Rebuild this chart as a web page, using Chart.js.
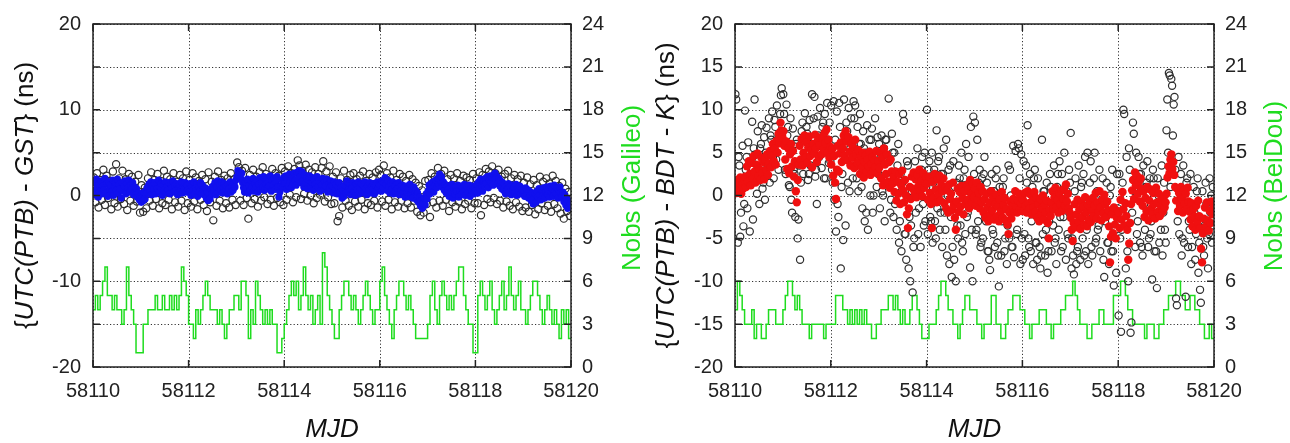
<!DOCTYPE html>
<html>
<head>
<meta charset="utf-8">
<script src="https://cdn.jsdelivr.net/npm/chart.js@4.4.1/dist/chart.umd.min.js"></script>
<style>
  html, body { margin: 0; padding: 0; background: #fff; }
  #wrap { position: relative; width: 1290px; height: 443px; }
  .panel { position: absolute; top: 0; width: 645px; height: 443px; }
</style>
</head>
<body>
<div id="wrap">
  <div class="panel" style="left:0"><canvas id="gal" width="645" height="443"></canvas></div>
  <div class="panel" style="left:645px"><canvas id="bds" width="645" height="443"></canvas></div>
</div>
<script>
// MJD range, samples are evenly spaced over it
const mjdStart = 58110;
const mjdEnd = 58120;
const mjdTicks = [58110, 58112, 58114, 58116, 58118, 58120];

// Galileo: raw single-satellite values (open circles), ns
const galRaw = [
  2.1,-0.8,2.6,-1.4,1.8,-0.5,3.0,-1.1,2.3,-0.3,1.7,-1.6,2.8,-0.9,3.65,-1.3,2.0,-0.4,2.9,-1.0,1.9,-1.7,2.5,-0.6,2.2,-1.2,1.6,-0.7,2.4,-2.0,
  1.2,-1.9,0.9,-1.5,2.0,-0.6,2.7,-1.2,1.8,-0.4,2.5,-1.5,1.7,-0.9,2.9,-1.1,2.2,-0.5,1.9,-1.6,2.6,-0.8,1.6,-1.3,2.4,-0.6,2.0,-1.7,2.8,-0.9,
  1.8,-1.3,2.6,-0.7,2.1,-1.6,1.7,-0.5,2.4,-1.1,1.9,-1.8,2.7,-0.8,1.6,-2.9,2.2,-1.2,2.8,-0.6,1.8,-1.5,2.3,-0.9,2.0,-1.4,2.6,-0.5,1.9,-1.1,
  3.85,3.3,-0.6,2.9,-1.1,3.2,-0.3,-2.7,2.4,-0.9,3.0,-0.4,2.2,-1.3,2.7,-0.6,3.3,-0.2,2.5,-1.0,2.1,-0.5,3.1,-1.2,2.6,-0.3,2.3,-0.8,3.2,-1.1,
  2.8,-0.5,3.4,0.1,2.6,-0.8,3.1,-0.2,4.1,3.5,-0.4,2.9,0.2,3.6,-0.6,3.0,0.0,2.7,-0.9,3.3,-0.3,2.5,0.1,3.2,4.0,-0.7,2.8,-0.2,3.4,-1.0,
  2.2,-0.9,2.7,-3.0,-2.4,2.0,-1.4,2.9,-0.6,1.8,-1.2,2.4,-1.7,2.6,-0.7,1.9,-1.3,2.3,-0.5,2.8,-1.6,1.7,-0.9,2.5,-1.1,2.1,-0.6,2.7,-1.4,3.0,
  2.4,-0.7,3.5,-1.2,2.6,-0.5,2.1,-1.6,2.9,-0.8,1.8,-1.3,2.5,-0.6,2.2,-1.5,1.7,-0.9,2.4,-1.4,1.9,-0.6,1.5,-1.9,1.1,-2.3,0.6,-2.0,1.7,-1.0,
  1.8,-2.5,2.6,-0.8,2.2,-1.4,3.2,-0.6,2.5,-1.2,2.9,-0.5,1.9,-1.8,2.4,-0.8,2.0,-1.3,2.6,-0.7,1.7,-1.6,2.3,-1.0,2.1,-0.6,1.8,-1.5,2.5,-0.9,
  2.0,-0.9,2.7,-2.3,2.4,-1.1,3.1,-0.4,2.8,-0.8,3.4,-0.3,2.6,-1.0,3.0,-0.6,2.2,-1.4,2.5,-0.7,2.9,-1.2,2.0,-1.6,2.4,-0.8,1.9,-1.3,2.3,-1.8,
  1.5,-1.4,2.1,-1.9,1.3,-1.1,1.8,-2.2,1.2,-1.6,2.2,-0.9,1.6,-1.7,2.0,-1.2,1.4,-1.9,2.3,-1.0,1.7,-1.5,1.1,-2.1,1.5,-2.7,0.8,-1.8,0.4,-2.4
];

// Galileo: combined solution (blue dots), ns
const galFilt = [
  0.6,1.5,0.1,1.9,0.9,-0.2,1.3,0.5,1.7,0.2, 1.1,0.7,2.0,0.3,1.4,-0.1,1.6,0.8,1.2,0.4, 1.8,0.0,1.0,1.5,0.6,1.9,0.3,1.3,0.8,-0.3,
  1.5,0.5,1.1,1.7,0.2,1.4,0.9,1.8,0.4,1.2, 0.7,1.5,0.1,1.0,0.5,0.8,-0.2,0.3,-0.5,-0.1,
  -0.8,-0.2,-0.6,0.4,-0.4,0.2,0.9,0.3,1.3,0.6, 1.6,0.1,1.1,0.7,1.5,0.2,1.2,0.8,1.8,0.4, 1.0,1.4,0.0,1.2,0.6,1.6,0.3,1.0,0.7,1.5,
  0.2,1.3,0.9,1.7,0.4,1.1,0.5,1.4,0.1,0.9, 1.3,0.6,1.6,0.3,1.0,0.8,1.5,0.4,1.2,0.7,
  0.4,1.4,0.0,1.1,0.6,1.6,0.2,0.9,1.3,-0.1, 1.0,0.5,1.5,0.2,1.2,0.7,0.1,0.9,-0.3,0.4, -0.6,0.3,-0.4,0.8,0.2,1.1,0.6,1.5,0.1,1.0,
  1.7,0.4,1.2,0.7,1.6,0.3,0.9,1.4,0.5,1.1, 0.2,1.3,0.8,1.6,0.4,1.0,0.6,1.4,1.0,1.8,
  2.2,2.9,2.4,2.7,2.0,2.6,1.5,0.9,0.4,1.6, 0.8,1.9,0.3,1.2,0.6,1.7,1.0,2.0,0.5,1.4, 0.9,1.8,0.4,1.3,2.1,0.7,1.5,1.0,2.2,0.6,
  1.4,1.9,0.8,1.6,1.1,2.3,0.5,1.7,1.2,2.0, 0.7,1.5,2.2,1.0,-0.2,0.4,1.1,1.8,0.9,2.1,
  1.4,2.3,0.7,1.9,1.1,2.5,1.6,0.9,2.1,1.3, 2.6,1.8,1.2,2.7,1.9,2.9,2.2,1.5,2.8,1.7, 1.0,2.4,1.4,2.0,0.8,1.8,2.3,1.1,1.6,2.1,
  0.6,1.9,1.3,0.8,2.2,1.0,1.7,0.5,1.5,1.2, 2.0,0.7,1.6,1.1,1.9,0.4,1.3,0.9,1.7,1.2,
  1.1,0.3,1.6,0.7,1.3,0.2,1.0,1.5,0.4,0.9, -0.3,0.6,-0.1,1.2,0.3,1.7,0.5,1.0,1.4,0.1, 0.8,1.5,0.4,1.1,0.0,1.3,0.7,1.6,0.2,0.9,
  1.4,0.5,1.2,0.3,1.6,0.8,0.1,1.1,0.6,1.5, 0.3,1.0,0.7,1.4,0.2,1.2,0.5,1.6,0.9,1.3,
  1.2,0.5,1.7,0.9,1.5,2.1,1.3,0.6,1.8,1.0, 0.3,1.4,0.7,1.6,0.2,1.1,0.5,1.3,0.8,1.5, 0.1,1.0,0.6,1.2,0.3,0.9,-0.2,1.1,0.4,0.8,
  -0.1,1.3,0.2,0.7,-0.3,1.0,0.4,0.6,-0.5,0.3, -0.8,-0.2,-1.2,-0.6,-1.5,-0.9,-0.3,-1.1,0.2,-0.4,
  0.5,1.2,0.2,1.4,0.7,1.6,0.4,1.1,1.8,0.9, 2.0,1.4,2.5,1.7,2.2,1.0,1.6,0.6,1.3,0.3, 1.1,0.7,-0.1,0.9,0.4,1.3,-0.3,0.8,0.2,1.0,
  0.5,1.2,-0.2,0.6,1.1,0.1,0.9,0.4,1.3,0.0, 0.7,1.0,0.3,1.2,-0.1,0.8,0.5,1.1,0.2,0.9,
  0.6,1.3,0.3,1.6,0.8,1.9,1.1,0.5,1.7,1.2, 2.0,1.4,2.2,0.9,1.8,2.3,1.5,2.1,1.2,2.4, 2.6,1.9,2.2,1.4,2.0,1.1,1.7,0.8,1.5,0.6,
  1.3,0.2,1.1,0.7,1.4,0.4,1.0,0.1,1.2,0.6, 0.9,0.3,1.3,0.0,0.8,0.5,1.1,0.2,0.7,0.4,
  0.6,-0.1,0.9,0.2,0.7,-0.3,0.5,0.0,-0.6,0.3, -1.0,-0.4,0.2,-0.8,0.5,-0.2,0.8,0.1,-0.5,0.6, 0.0,0.9,-0.3,0.4,1.0,0.2,0.7,-0.2,1.1,0.4,
  0.8,-0.1,1.2,0.5,0.2,0.9,-0.3,0.6,1.0,0.3, -0.2,0.4,-0.7,0.1,-1.1,-0.4,-1.5,-0.6,-1.2,-0.9
];

// Galileo: number of satellites observed
const galNobs = [
  4,5,4,5,6,7,5,5,4,5, 4,4,3,4,7,5,4,3,1,1, 1,3,3,4,4,4,5,4,4,5, 4,4,5,4,5,4,5,7,6,5,
  3,3,2,4,3,4,5,6,5,4, 4,4,3,4,3,2,3,4,4,5, 5,4,6,6,5,2,4,3,6,5, 4,3,4,3,4,3,3,1,1,2,
  3,4,5,6,5,6,4,5,7,5, 4,5,3,4,5,3,8,7,5,4, 3,2,2,4,5,6,6,5,4,5, 4,3,4,5,6,5,4,3,4,4,
  6,7,5,4,3,2,4,5,6,6, 5,4,5,4,3,2,2,2,2,2, 3,5,6,4,3,5,6,5,4,5, 4,5,6,7,7,5,4,3,3,1,
  1,5,6,5,4,5,6,4,3,4, 5,6,4,5,7,5,4,5,6,4, 4,3,4,5,6,6,5,4,3,4, 5,4,3,4,3,2,4,3,4,2
];

// BeiDou: raw single-satellite values (open circles), ns
const bdsRaw = [
  11.8,11.2,0.5, -5.5,4.5,3.5, -4.8,-2.0,2.0, 5.8,-3.6,-1.0, 9.9,3.0,4.5, -1.5,6.2,1.5, -4.2,2.5,3.0, 8.6,-2.8,5.5, 11.2,4.8,2.5, 0.2,7.5,4.0,
  -1.0,5.5,6.0, 8.2,0.8,1.5, 6.8,-0.5,5.0, 7.9,3.2,3.5, 9.0,1.5,7.0, 6.5,9.8,4.5, 2.0,8.8,8.0, 4.2,10.5,6.5, 3.0,7.2,9.5, 11.7,12.5,7.5,
  11.8,9.5,3.0, 2.5,10.6,7.0, 8.0,1.2,1.0, 9.0,-0.5,-2.0, 7.8,3.0,2.5, -2.5,6.0,6.5, -5.0,-2.8,3.5, -7.5,1.5,7.5, 8.5,2.5,4.0, 9.6,4.0,8.0,
  7.2,1.8,2.5, 8.8,3.5,6.0, 11.8,6.5,9.0, 11.5,2.2,3.0, -1.0,9.2,7.0, 4.5,10.2,5.0, 3.2,8.0,8.5, 2.0,9.5,2.0, 5.0,10.8,6.5, 3.8,8.5,4.0,
  10.5,3.0,1.5, 11.0,-0.5,6.5, -4.2,9.8,-1.0, -2.5,10.8,8.0, -8.5,1.0,2.5, -5.2,11.2,5.0, -3.5,8.5,7.5, 1.5,10.2,0.5, 5.5,9.0,4.0, 2.0,11.0,9.0,
  10.5,3.5,2.0, 8.0,0.5,6.0, 9.5,6.0,1.0, -1.5,7.5,5.5, -3.0,5.0,-2.0, 8.2,-4.0,3.5, 6.5,0.0,6.5, 7.8,-2.0,0.0, 4.0,9.0,4.5, 1.0,6.8,2.5,
  6.0,-1.5,4.5, 7.0,0.5,0.0, 5.5,-3.0,6.5, 6.5,2.0,2.0, 11.3,4.0,-2.0, -0.5,7.2,5.0, -2.5,5.0,-1.0, 1.0,-4.0,3.5, 6.0,-5.5,-3.0, 2.5,-6.5,1.5,
  9.5,8.7,-4.5, -4.5,-7.5,4.0, 3.5,-8.5,-2.5, -10.0,-3.5,0.5, -11.3,-6.0,-5.0, 4.0,-2.0,2.5, 5.5,-4.5,-1.5, 2.5,-6.0,3.0, 4.5,-1.0,-3.5, 5.0,-3.0,1.0,
  10.0,-4.5,3.0, 4.0,-2.5,-3.0, 5.0,-5.5,1.5, 3.0,-3.0,-5.0, 7.6,-1.5,4.0, 4.5,-4.0,-2.0, 2.5,-6.0,2.5, 5.5,-2.0,-4.0, 6.5,-7.0,0.0, 3.0,-8.0,3.5,
  -2.5,-9.5,-6.0, 4.0,-7.5,1.0, -10.0,1.5,-3.5, -5.0,3.5,2.0, -3.5,5.0,-5.5, -6.5,2.0,3.0, -4.5,6.0,-2.5, -2.0,4.5,0.5, -8.4,8.0,-4.0, -10.0,9.2,2.5,
  8.5,-4.5,-4.0, 6.5,-3.0,1.5, 3.0,-6.0,-5.5, 2.0,-5.0,2.5, 4.5,-2.5,-3.0, 1.5,-6.5,-6.5, -7.5,-8.7,0.5, 2.5,-4.0,-4.5, 0.5,-6.0,2.0, 3.0,-5.5,-7.0,
  -10.6,1.0,-2.5, -7.0,-3.0,1.0, 2.0,-6.5,-5.0, -1.0,-8.0,-3.5, 3.5,-5.0,3.0, 0.0,-6.0,-6.0, 5.8,-7.2,-1.5, 5.2,-4.5,-4.0, 6.0,5.5,2.0, -8.0,4.8,-5.0,
  -7.5,4.0,-4.5, -7.0,3.5,1.5, 8.2,-5.0,-6.0, 2.5,-6.5,-3.0, 1.0,-8.0,2.0, 3.0,-5.5,-5.5, -7.5,2.0,-2.0, -6.0,-8.5,-7.0, 6.5,-4.5,0.5, 0.5,-7.0,-4.0,
  1.5,-9.0,-6.5, -3.0,2.5,1.0, -6.5,-1.0,-3.5, 3.5,-5.5,-5.0, -8.0,1.0,2.5, -4.0,4.0,-2.5, -6.5,2.5,-6.0, -2.5,5.0,0.0, -7.5,0.5,-4.5, -5.0,3.0,1.5,
  7.3,-8.5,-5.0, -7.0,-9.2,0.5, 2.0,-8.0,-6.5, -6.0,3.5,-3.0, -7.5,1.0,1.5, -5.0,2.5,-7.0, 4.5,-6.5,-4.0, 5.0,-8.0,-1.0, 1.5,4.0,-6.0, -7.0,-2.5,2.0,
  5.0,-5.5,-5.0, 0.5,-4.0,-3.5, 3.0,-6.5,0.0, -1.5,2.0,-7.5, -9.5,-3.0,-2.5, 1.5,-5.5,-5.5, -8.0,0.0,1.0, -6.5,3.0,-6.5, -10.5,-2.0,-4.0, -9.0,2.5,-1.5,
  -14.0,2.5,-5.0, -15.9,-4.0,1.5, 10.0,9.5,-3.0, -8.5,4.5,-6.5, -10.0,5.5,3.0, -16.0,-14.8,-2.0, 8.5,7.2,0.5, -6.0,5.0,-4.5, -3.0,4.5,2.5, -5.5,2.5,-6.0,
  -7.0,3.5,-1.0, -4.0,1.0,1.5, 4.0,-6.0,-5.0, 2.0,-4.5,-3.0, -9.8,3.0,2.0, -6.5,0.5,-6.5, -10.8,2.0,0.0, -5.5,-1.0,-4.0, 3.5,-7.0,-2.0, 1.5,-4.0,-5.5,
  7.6,11.2,5.0, 14.3,14.0,1.0, 13.6,12.8,7.0, 10.6,11.5,3.0, -12.0,-12.8,-3.0, 4.5,-4.5,0.5, 2.5,-7.0,-5.0, 3.5,-5.5,-1.5, -11.8,1.5,2.0, -6.0,-3.0,-4.0,
  2.5,-8.0,-6.0, -1.5,1.0,-2.0, -7.5,-4.5,0.5, 2.0,-9.0,-5.5, -11.0,-12.5,-3.0, 0.5,-6.0,-7.0, -3.5,1.5,-1.0, -5.0,-8.5,-4.5, 2.0,-2.0,0.0, -5.5,1.0,-3.5
];

// BeiDou: combined solution (red dots), ns
const bdsFilt = [
  1.0,0.3,1.8,0.6,1.5,2.1,0.2,1.2,0.8,1.9, 2.2,1.0,3.4,1.6,4.0,2.5,1.2,3.8,2.0,4.6, 2.8,1.5,3.6,4.9,2.3,3.1,1.8,4.4,2.6,3.9,
  1.9,4.2,3.0,4.8,2.4,3.7,5.2,3.3,4.6,6.0, 4.0,5.5,3.6,6.4,5.0,7.2,6.1,8.5,7.6,6.8,
  7.5,5.8,4.2,6.3,3.1,5.5,2.6,4.8,6.0,3.4, 5.2,2.2,4.0,0.5,-0.8,1.8,3.6,5.8,4.2,6.6, 3.5,5.0,7.0,4.4,6.2,3.8,5.6,6.9,4.6,5.3,
  3.3,6.0,4.9,7.1,5.5,3.9,6.4,4.5,5.9,6.8, 4.8,6.6,5.4,7.3,6.1,7.7,5.0,6.5,4.4,5.7,
  3.6,5.4,2.3,4.6,1.5,-0.4,3.0,5.8,2.8,4.9, 6.2,3.9,5.5,7.0,4.6,7.5,6.3,4.1,6.8,5.1, 3.5,6.0,4.4,5.6,3.2,6.5,4.8,3.8,5.3,4.0,
  2.5,4.6,3.2,5.0,2.1,3.9,4.7,2.8,4.2,3.4, 5.1,2.4,3.7,4.5,2.9,4.1,3.3,5.2,2.6,4.0,
  3.2,5.0,2.0,4.4,1.2,5.5,3.6,2.5,4.8,1.6, 3.9,0.9,4.2,2.8,1.4,2.2,0.4,2.8,-0.6,1.6, 0.2,2.5,-1.0,1.2,2.9,0.6,-0.8,1.8,0.0,-2.2,
  -3.8,-1.5,1.0,-0.4,2.2,0.8,2.7,0.3,1.9,-0.2, 2.4,1.1,3.0,0.5,1.7,-0.1,2.6,0.9,1.5,2.2,
  1.4,-0.5,2.2,0.3,-1.0,-3.8,1.6,-0.2,2.5,0.7, -0.8,1.9,0.1,2.3,-0.6,1.2,0.5,2.0,-0.9,1.0, -1.5,0.6,-2.0,1.3,-0.4,0.2,-1.7,1.5,-1.1,-2.6,
  -4.0,-0.7,0.8,-1.9,0.4,-1.3,1.1,-0.3,-2.2,0.5, -1.0,1.2,-0.5,0.7,-1.5,1.8,0.2,-0.8,1.4,-0.2,
  0.8,-1.2,1.5,-0.5,0.3,-1.5,1.0,-0.8,0.5,-2.0, -0.4,-2.6,0.2,-1.4,-3.0,-0.8,-2.2,0.5,-1.7,-0.2, -2.8,-1.0,0.1,-2.4,-1.3,-3.0,-0.5,-1.9,0.4,-2.6,
  -1.1,-0.3,-2.9,-1.6,-3.4,-4.5,-2.0,-0.7,-2.7,-1.2, -0.4,-1.9,0.5,-1.3,-2.0,-0.6,0.2,-1.6,-0.9,-1.8,
  -0.5,-1.8,0.3,-1.2,-2.0,0.5,-0.9,-1.5,0.1,-2.2, -0.6,-1.4,0.4,-1.9,-0.3,-2.6,-1.0,-3.0,-0.4,-2.2, -1.5,0.0,-2.8,-1.1,-2.0,-0.6,-3.2,-5.0,-1.7,-2.4,
  -0.8,0.5,-1.6,-0.2,0.9,-1.3,-0.5,-2.0,0.3,-1.0, 0.6,-1.8,-0.4,0.8,-1.2,1.3,-0.7,0.2,-1.5,-2.0,
  -2.6,-4.0,-5.3,-3.2,-1.0,-3.7,-2.2,-0.5,-3.0,-1.6, -3.9,-0.8,-2.5,-1.3,-3.4,-0.2,-2.0,-3.6,-1.1,-2.8, -0.6,-3.1,-1.8,-0.3,-2.4,-1.2,0.3,-2.7,-0.8,-1.9,
  0.5,-1.4,-2.9,-0.5,-2.1,0.1,-1.0,-2.5,-0.7,-1.7, -3.6,-7.8,-4.8,-2.2,-4.4,-1.4,-3.4,-5.0,-2.6,-1.8,
  -2.0,-3.8,-0.5,-2.8,0.4,-1.6,-3.5,-0.9,-2.4,-4.0, -7.5,-5.6,-3.2,-1.0,0.6,1.8,-0.4,2.7,1.2,2.3, 0.2,1.6,-0.7,2.0,0.8,-1.2,0.5,-2.5,-0.3,-1.8,
  1.0,-2.9,-0.6,0.7,-1.5,-2.2,0.3,-1.0,-2.7,0.9, -0.8,-1.9,0.2,-2.4,-1.2,-0.5,-1.9,-0.2,-1.4,-0.8,
  0.2,2.1,3.4,2.6,4.2,4.8,3.1,3.9,2.4,1.0, -0.6,0.8,-1.8,0.3,-1.2,1.0,-0.4,-2.0,0.6,-1.0, 0.2,-1.6,0.9,-0.7,-1.9,-2.8,-0.9,-3.6,-1.6,-2.5,
  -4.0,-1.2,-3.1,-0.6,-2.4,-3.8,-6.2,-7.8,-4.4,-2.7, -1.4,-3.6,-0.8,-2.9,-4.1,-1.8,-3.2,-0.7,-2.2,-1.3
];

// BeiDou: number of satellites observed
const bdsNobs = [
  4,6,5,4,3,3,3,4,2,3, 3,2,2,3,4,4,4,3,3,3, 4,5,6,6,5,4,5,4,3,3, 3,2,3,3,3,3,3,2,3,3,
  3,3,5,5,5,4,4,3,4,3, 4,3,4,3,4,3,3,2,2,3, 3,4,4,4,5,5,4,5,4,3, 4,3,3,4,5,5,4,3,2,2,
  2,3,3,3,4,5,6,6,5,4, 4,3,3,2,3,4,5,5,4,4, 4,3,3,2,3,3,3,5,5,3, 3,2,2,3,4,4,5,5,5,4,
  4,3,3,2,3,3,3,4,4,4, 3,3,2,3,3,3,4,4,5,5, 5,6,5,4,3,3,3,2,2,3, 3,3,4,4,3,3,3,3,5,5,
  5,6,6,5,4,4,3,3,3,3, 3,2,3,3,3,2,2,3,3,4, 4,5,5,5,6,6,5,5,4,4, 5,5,4,4,3,3,2,2,3,2
];

const tickFont = { family: '"Liberation Sans", Arial, sans-serif', size: 20 };
const titleFamily = '"Liberation Sans", Arial, sans-serif';
const green = '#1fdc1f';

function series(values) {
  const step = (mjdEnd - mjdStart) / values.length;
  return values.map((v, i) => ({ x: mjdStart + (i + 0.5) * step, y: v }));
}

function steps(values) {
  const step = (mjdEnd - mjdStart) / values.length;
  const pts = values.map((v, i) => ({ x: mjdStart + i * step, y: v }));
  pts.push({ x: mjdEnd, y: values[values.length - 1] });
  return pts;
}

// draws a rotated title made of plain and italic pieces
function drawRotated(ctx, parts, x, y, color, size) {
  ctx.save();
  ctx.fillStyle = color;
  ctx.textBaseline = 'middle';
  ctx.textAlign = 'left';
  let total = 0;
  const widths = parts.map(p => {
    ctx.font = (p[1] ? 'italic ' : '') + size + 'px ' + titleFamily;
    const w = ctx.measureText(p[0]).width;
    total += w;
    return w;
  });
  ctx.translate(x, y);
  ctx.rotate(-Math.PI / 2);
  let pos = -total / 2;
  parts.forEach((p, i) => {
    ctx.font = (p[1] ? 'italic ' : '') + size + 'px ' + titleFamily;
    ctx.fillText(p[0], pos, 0);
    pos += widths[i];
  });
  ctx.restore();
}

const gridPlugin = {
  id: 'dotGrid',
  beforeDatasetsDraw(chart) {
    const { ctx, chartArea: a, scales } = chart;
    ctx.save();
    ctx.strokeStyle = '#333';
    ctx.lineWidth = 1;
    ctx.setLineDash([1.2, 2.2]);
    ctx.beginPath();
    scales.x.ticks.forEach(t => {
      const x = Math.round(scales.x.getPixelForValue(t.value)) + 0.5;
      ctx.moveTo(x, a.top); ctx.lineTo(x, a.bottom);
    });
    scales.y.ticks.forEach(t => {
      const y = Math.round(scales.y.getPixelForValue(t.value)) + 0.5;
      ctx.moveTo(a.left, y); ctx.lineTo(a.right, y);
    });
    ctx.stroke();
    ctx.restore();
  },
  afterDraw(chart, args, opts) {
    const { ctx, chartArea: a, scales } = chart;
    ctx.save();
    ctx.strokeStyle = '#222';
    ctx.lineWidth = 1.5;
    ctx.beginPath();
    scales.x.ticks.forEach(t => {
      const x = scales.x.getPixelForValue(t.value);
      ctx.moveTo(x, a.bottom); ctx.lineTo(x, a.bottom - 7);
      ctx.moveTo(x, a.top); ctx.lineTo(x, a.top + 7);
    });
    scales.y.ticks.forEach(t => {
      const y = scales.y.getPixelForValue(t.value);
      ctx.moveTo(a.left, y); ctx.lineTo(a.left + 7, y);
      ctx.moveTo(a.right, y); ctx.lineTo(a.right - 7, y);
    });
    ctx.stroke();
    ctx.strokeRect(a.left, a.top, a.right - a.left, a.bottom - a.top);
    ctx.restore();

    const midY = (a.top + a.bottom) / 2;
    drawRotated(ctx, opts.yTitle, opts.yTitleX, midY, '#111', 26);
    drawRotated(ctx, [[opts.nobsTitle, false]], opts.nobsX, opts.nobsY, green, 26);

    ctx.save();
    ctx.fillStyle = '#111';
    ctx.font = 'italic 26px ' + titleFamily;
    ctx.textAlign = 'center';
    ctx.textBaseline = 'middle';
    ctx.fillText('MJD', (a.left + a.right) / 2, 430);
    ctx.restore();
  }
};

function makePanel(id, raw, filt, nobs, filtColor, filtRadius, layout) {
  new Chart(document.getElementById(id), {
    type: 'scatter',
    data: {
      datasets: [
        {
          data: series(filt),
          pointRadius: filtRadius,
          pointBorderWidth: 0,
          pointBackgroundColor: filtColor,
          yAxisID: 'y'
        },
        {
          data: series(raw),
          pointRadius: 3.6,
          pointBorderWidth: 1.2,
          pointBorderColor: '#2e2e2e',
          pointBackgroundColor: 'rgba(0,0,0,0)',
          yAxisID: 'y'
        },
        {
          type: 'line',
          data: steps(nobs),
          showLine: true,
          stepped: true,
          borderColor: green,
          borderWidth: 1.5,
          pointRadius: 0,
          fill: false,
          yAxisID: 'y2'
        }
      ]
    },
    options: {
      responsive: false,
      animation: false,
      devicePixelRatio: 1,
      layout: { padding: { top: 22, left: 0, right: 0, bottom: 0 } },
      plugins: {
        legend: { display: false },
        tooltip: { enabled: false },
        dotGrid: layout
      },
      scales: {
        x: {
          type: 'linear',
          min: mjdStart,
          max: mjdEnd,
          afterFit: s => { s.height = 76; },
          afterBuildTicks: s => { s.ticks = mjdTicks.map(v => ({ value: v })); },
          ticks: { font: tickFont, color: '#222', padding: 12, maxRotation: 0, callback: v => String(v) },
          grid: { display: false, drawTicks: false },
          border: { display: false }
        },
        y: {
          position: 'left',
          min: -20,
          max: 20,
          afterFit: s => { s.width = layout.leftW; },
          ticks: { stepSize: 5, font: tickFont, color: '#222', padding: 12, callback: layout.yLabel },
          grid: { display: false, drawTicks: false },
          border: { display: false }
        },
        y2: {
          position: 'right',
          min: 0,
          max: 24,
          afterFit: s => { s.width = layout.rightW; },
          ticks: { stepSize: 3, font: tickFont, color: '#222', padding: 11, callback: v => String(v) },
          grid: { display: false, drawTicks: false },
          border: { display: false }
        }
      }
    },
    plugins: [gridPlugin]
  });
}

makePanel('gal', galRaw, galFilt, galNobs, '#1010ee', 3.6, {
  leftW: 93, rightW: 74,
  yLabel: v => (v % 10 === 0 ? String(v) : ''),
  yTitle: [['{', false], ['UTC(PTB)', true], [' - ', false], ['GST', true], ['}', false], [' (ns)', false]],
  yTitleX: 26,
  nobsTitle: 'Nobs (Galileo)', nobsX: 633, nobsY: 188
});

makePanel('bds', bdsRaw, bdsFilt, bdsNobs, '#f01010', 4.2, {
  leftW: 90, rightW: 76,
  yLabel: v => String(v),
  yTitle: [['{', false], ['UTC(PTB)', true], [' - ', false], ['BDT', true], [' - ', false], ['K', true], ['}', false], [' (ns)', false]],
  yTitleX: 22,
  nobsTitle: 'Nobs (BeiDou)', nobsX: 630, nobsY: 186
});
</script>
</body>
</html>
